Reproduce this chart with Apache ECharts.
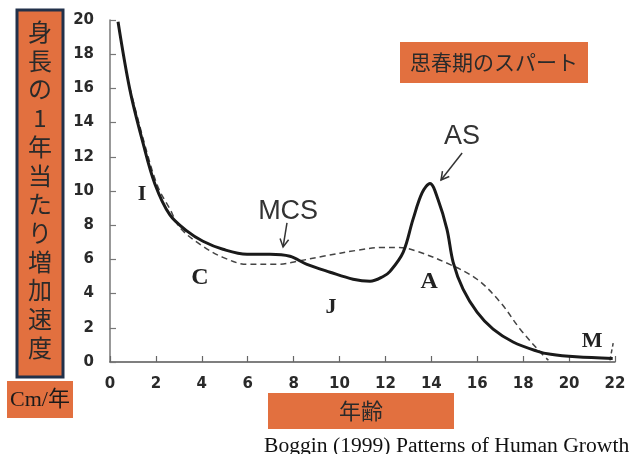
<!DOCTYPE html>
<html><head><meta charset="utf-8">
<script src="https://cdn.jsdelivr.net/npm/echarts@6/dist/echarts.min.js"></script>
<style>html,body{margin:0;padding:0;background:#fff}#c{width:644px;height:454px}</style>
</head><body><div id="c"></div>
<script>
// Age (years) and growth velocity (cm/year)
const solidAges = [0.35, 0.87, 1.44, 1.96, 2.61, 3.36, 4.05, 4.92, 5.97, 6.97, 7.84, 8.58, 9.59, 10.59, 11.33, 11.9, 12.2, 12.77, 13.2, 13.6, 13.94, 14.29, 14.68, 14.95, 15.38, 15.99, 16.69, 17.56, 18.6, 19.2, 20.3, 21.9];
const solidVel  = [19.9, 15.9, 12.8, 10.4, 8.6, 7.65, 7.06, 6.59, 6.30, 6.30, 6.18, 5.71, 5.25, 4.84, 4.72, 5.0, 5.3, 6.41, 8.34, 9.9, 10.44, 9.5, 7.76, 5.83, 4.26, 2.92, 1.92, 1.17, 0.64, 0.45, 0.3, 0.2];
const dashAges = [0.87, 1.6, 2.1, 2.61, 3.05, 4.05, 4.92, 5.97, 7.28, 8.15, 9.28, 10.76, 11.9, 12.6, 13.38, 14.8, 15.99, 17.0, 17.87, 18.74, 19.1];
const dashVel  = [16.0, 12.3, 10.2, 8.95, 7.85, 6.76, 6.12, 5.71, 5.71, 5.89, 6.18, 6.53, 6.7, 6.7, 6.47, 5.71, 4.84, 3.5, 1.92, 0.58, 0.1];
const tailAges = [21.78, 21.92];
const tailVel  = [0.1, 1.1];
const xTicks = [0,2,4,6,8,10,12,14,16,18,20,22];
const yTicks = [0,2,4,6,8,10,12,14,16,18,20];

// Annotations in data coordinates
const letters = [
  {t:'I', x:1.39, y:9.82, size:22},
  {t:'C', x:3.92, y:4.91, size:24},
  {t:'J', x:9.63, y:3.22, size:22},
  {t:'A', x:13.9, y:4.68, size:24},
  {t:'M', x:21.0, y:1.23, size:22}
];
const sansNotes = [
  {t:'MCS', x:7.76, y:8.77},
  {t:'AS', x:15.34, y:13.16}
];
const arrows = [
  {from:[7.71, 8.13], to:[7.54, 6.73]},
  {from:[15.34, 12.22], to:[14.42, 10.64]}
];

const zip = (a,b) => a.map((v,i)=>[v,b[i]]);
const chart = echarts.init(document.getElementById('c'), null, {renderer:'canvas'});
const ORANGE = '#E2703F';
const tickFont = {fontFamily:'DejaVu Sans', fontWeight:'bold', fontSize:15, color:'#2a2a2a'};

chart.setOption({
  animation:false,
  backgroundColor:'#fff',
  grid:{left:110, right:29, top:20, bottom:92, containLabel:false},
  xAxis:{type:'value', min:0, max:22, interval:2,
    axisLine:{show:true, lineStyle:{color:'#555', width:1.5}},
    axisTick:{show:true, inside:true, length:6, lineStyle:{color:'#666', width:1.2}},
    axisLabel:Object.assign({margin:15, formatter:v=>xTicks.includes(v)?String(v):''}, tickFont),
    splitLine:{show:false}},
  yAxis:{type:'value', min:0, max:20, interval:2,
    axisLine:{show:true, lineStyle:{color:'#777', width:1.5}},
    axisTick:{show:true, inside:true, length:6, lineStyle:{color:'#777', width:1.2}},
    axisLabel:Object.assign({margin:16, formatter:v=>yTicks.includes(v)?String(v):''}, tickFont),
    splitLine:{show:false}},
  series:[
    {type:'line', data:zip(dashAges,dashVel), smooth:0.35, showSymbol:false,
      lineStyle:{color:'#444', width:1.5, type:[6,4]}, z:2},
    {type:'line', data:zip(tailAges,tailVel), smooth:false, showSymbol:false,
      lineStyle:{color:'#444', width:1.5, type:[4,3]}, z:2},
    {type:'line', data:zip(solidAges,solidVel), smooth:0.35, showSymbol:false,
      lineStyle:{color:'#1a1a1a', width:3}, z:3}
  ]
});

const px = p => chart.convertToPixel({gridIndex:0}, p);
const g = [];
// Y axis title box
g.push({type:'rect', shape:{x:17,y:10,width:46,height:367}, style:{fill:ORANGE, stroke:'#22314a', lineWidth:3}});
g.push({type:'text', x:40, y:17.6, style:{text:'身\n長\nの\n1\n年\n当\nた\nり\n増\n加\n速\n度', fill:'#2a2a2a',
  font:'24px "Noto Sans CJK JP"', lineHeight:28.7, textAlign:'center', textVerticalAlign:'top'}});
g.push({type:'rect', shape:{x:7,y:381,width:66,height:37}, style:{fill:ORANGE}});
g.push({type:'text', x:40, y:400, style:{text:'Cm/年', fill:'#1a1a1a', font:'22px "Liberation Serif", "Noto Sans CJK JP"', textAlign:'center', textVerticalAlign:'middle'}});
// Title box
g.push({type:'rect', shape:{x:400,y:42,width:188,height:41}, style:{fill:ORANGE}});
g.push({type:'text', x:494, y:62.5, style:{text:'思春期のスパート', fill:'#2a2a2a', font:'21px "Noto Sans CJK JP"', textAlign:'center', textVerticalAlign:'middle'}});
// X axis title box
g.push({type:'rect', shape:{x:268,y:393,width:186,height:36}, style:{fill:ORANGE}});
g.push({type:'text', x:361, y:411, style:{text:'年齢', fill:'#2a2a2a', font:'22px "Noto Sans CJK JP"', textAlign:'center', textVerticalAlign:'middle'}});
// Source
g.push({type:'text', x:264, y:446, style:{text:'Boggin (1999) Patterns of Human Growth', fill:'#111', font:'21.6px "Liberation Serif"', textAlign:'left', textVerticalAlign:'middle'}});

letters.forEach(l=>{
  const p = px([l.x,l.y]);
  g.push({type:'text', x:p[0], y:p[1], style:{text:l.t, fill:'#222', font:'bold '+l.size+'px "Liberation Serif"', textAlign:'center', textVerticalAlign:'middle'}});
});
sansNotes.forEach(l=>{
  const p = px([l.x,l.y]);
  g.push({type:'text', x:p[0], y:p[1], style:{text:l.t, fill:'#333', font:'27px "Liberation Sans"', textAlign:'center', textVerticalAlign:'middle'}});
});
arrows.forEach(a=>{
  const p1 = px(a.from), p2 = px(a.to);
  const ang = Math.atan2(p1[1]-p2[1], p1[0]-p2[0]);
  const L = 9, w = 0.5;
  const w1 = [p2[0]+L*Math.cos(ang+w), p2[1]+L*Math.sin(ang+w)];
  const w2 = [p2[0]+L*Math.cos(ang-w), p2[1]+L*Math.sin(ang-w)];
  g.push({type:'line', shape:{x1:p1[0],y1:p1[1],x2:p2[0],y2:p2[1]}, style:{stroke:'#333', lineWidth:1.5}});
  g.push({type:'polyline', shape:{points:[w1,p2,w2]}, style:{stroke:'#333', lineWidth:1.5, fill:null}});
});
chart.setOption({graphic:g});
</script></body></html>
